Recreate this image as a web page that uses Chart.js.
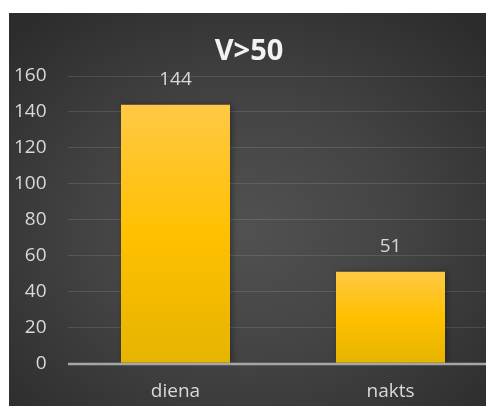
<!DOCTYPE html>
<html>
<head>
<meta charset="utf-8">
<script src="https://cdn.jsdelivr.net/npm/chart.js@4"></script>
<style>
  html, body { margin: 0; padding: 0; background: #ffffff; }
  #outer { position: absolute; left: 0; top: 0; width: 486px; height: 406px; overflow: hidden; }
  #bg { position: absolute; left: 9px; top: 13px; right: 0; bottom: 0;
        background: radial-gradient(ellipse 70% 70% at 50% 55%, #515151 0%, #444444 45%, #2c2c2c 100%); }
  #c { position: absolute; left: 0; top: 0; }
</style>
</head>
<body>
<div id="outer">
  <div id="bg"></div>
  <canvas id="c" width="520" height="406"></canvas>
</div>
<script>
const chartTitle = 'V>50';
const categories = ['diena', 'nakts'];
const values = [144, 51];
const yTicks = { min: 0, max: 160, step: 20 };

const FONT = "'Open Sans', 'Noto Sans', sans-serif";
const TXT = '#d9d9d9';

function barGradient(ctx) {
  const chart = ctx.chart;
  const area = chart.chartArea;
  if (!area || ctx.type !== 'data') return '#ffc000';
  const ys = chart.scales.y;
  const top = ys.getPixelForValue(ctx.parsed.y);
  const base = ys.getPixelForValue(0);
  const g = chart.ctx.createLinearGradient(0, top, 0, base);
  g.addColorStop(0, '#ffc845');
  g.addColorStop(0.5, '#ffc000');
  g.addColorStop(1, '#e6b400');
  return g;
}

const extras = {
  id: 'extras',
  beforeDatasetsDraw(chart) {
    const c = chart.ctx;
    c.save();
    c.shadowColor = 'rgba(0,0,0,0.35)';
    c.shadowBlur = 6;
    c.shadowOffsetX = 2;
    c.shadowOffsetY = 0;
  },
  afterDatasetsDraw(chart) {
    const c = chart.ctx;
    c.restore();
    const ys = chart.scales.y;
    const y0 = ys.getPixelForValue(0);
    c.save();
    c.strokeStyle = '#a6a6a6';
    c.lineWidth = 2.5;
    c.beginPath();
    c.moveTo(chart.chartArea.left, y0 + 0.8);
    c.lineTo(chart.chartArea.right, y0 + 0.8);
    c.stroke();
    c.fillStyle = TXT;
    c.font = "19px " + FONT;
    c.textAlign = 'center';
    c.textBaseline = 'middle';
    const meta = chart.getDatasetMeta(0);
    meta.data.forEach((el, i) => {
      c.fillText(String(values[i]), el.x, el.y - 25);
    });
    c.restore();
  }
};

new Chart(document.getElementById('c'), {
  type: 'bar',
  data: {
    labels: categories,
    datasets: [{
      data: values,
      backgroundColor: barGradient,
      borderWidth: 0,
      barPercentage: 1,
      categoryPercentage: 0.507
    }]
  },
  options: {
    responsive: false,
    devicePixelRatio: 1,
    animation: false,
    layout: { padding: { left: 0, right: 22, top: 0, bottom: 2.6 } },
    plugins: {
      legend: { display: false },
      tooltip: { enabled: false },
      title: {
        display: true,
        text: chartTitle,
        color: '#f2f2f2',
        font: { family: FONT, size: 29, weight: 'bold', lineHeight: 1.2 },
        padding: { top: 34.6, bottom: 6.6 }
      }
    },
    scales: {
      x: {
        afterFit(scale) { scale.height = 40.1; },
        grid: { display: false, drawTicks: false },
        border: { display: false },
        ticks: { color: TXT, font: { family: FONT, size: 19, lineHeight: 1.2 }, padding: 17.3, maxRotation: 0 }
      },
      y: {
        min: yTicks.min,
        max: yTicks.max,
        afterFit(scale) { scale.width = 68; },
        grid: {
          drawTicks: false,
          color: (ctx) => ctx.tick && ctx.tick.value === 0 ? 'rgba(0,0,0,0)' : 'rgba(255,255,255,0.11)',
          lineWidth: 1
        },
        border: { display: false },
        ticks: {
          stepSize: yTicks.step,
          color: TXT,
          font: { family: FONT, size: 19, lineHeight: 1.2 },
          padding: 21.5
        }
      }
    }
  },
  plugins: [extras]
});
</script>
</body>
</html>
